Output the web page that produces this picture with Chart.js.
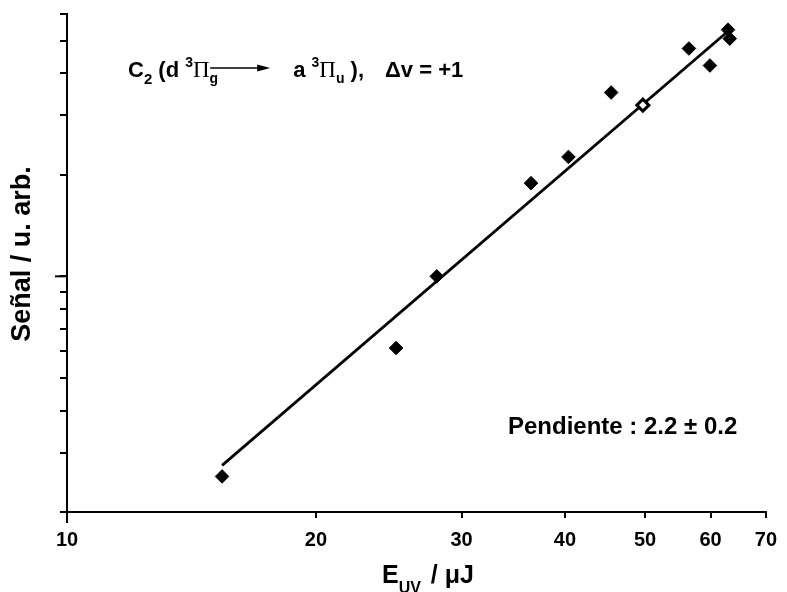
<!DOCTYPE html>
<html>
<head>
<meta charset="utf-8">
<script src="https://cdn.jsdelivr.net/npm/chart.js@4/dist/chart.umd.min.js"></script>
<style>
  html, body { margin: 0; padding: 0; background: #fff; }
  #wrap { position: relative; width: 787px; height: 592px; }
</style>
</head>
<body>
<div id="wrap"><canvas id="chart"></canvas></div>
<script>
// UV pulse energy (µJ) and C2 emission signal (arb. units)
const energyFilled = [15.4, 25.0, 28.0, 36.4, 40.4, 45.5, 56.5, 59.9, 63.0, 63.3];
const signalFilled = [0.255, 0.613, 1.0, 1.89, 2.26, 3.51, 4.74, 4.22, 5.39, 5.07];
const energyOpen = [49.7];
const signalOpen = [3.22];

// least-squares line in log-log space (end points)
const fitEnergy = [15.4, 63.1];
const fitSignal = [0.275, 5.35];

// axis ticks
const xTicks = [10, 20, 30, 40, 50, 60, 70];
const yTicks = [0.2, 0.3, 0.4, 0.5, 0.6, 0.7, 0.8, 0.9, 1, 2, 3, 4, 5, 6];
const xMajor = [10];
const yMajor = [1];

const SANS = '"Liberation Sans", Arial, sans-serif';
const SERIF = '"Liberation Serif", "Times New Roman", serif';

function drawRuns(ctx, x, baseline, runs) {
  let cx = x;
  for (const r of runs) {
    if (r.gap !== undefined) { cx += r.gap; continue; }
    if (r.arrow !== undefined) {
      const y = baseline - r.lift;
      ctx.beginPath();
      ctx.lineWidth = 1.6;
      ctx.moveTo(cx, y);
      ctx.lineTo(cx + r.arrow - 10, y);
      ctx.stroke();
      ctx.beginPath();
      ctx.moveTo(cx + r.arrow, y);
      ctx.lineTo(cx + r.arrow - 13, y - 3.5);
      ctx.lineTo(cx + r.arrow - 13, y + 3.5);
      ctx.closePath();
      ctx.fill();
      cx += r.arrow;
      continue;
    }
    ctx.font = `${r.weight || 'bold'} ${r.size}px ${r.family || SANS}`;
    ctx.fillText(r.t, cx, baseline + (r.dy || 0));
    cx += ctx.measureText(r.t).width;
  }
}

const textLayer = {
  id: 'textLayer',
  afterDraw(chart) {
    const { ctx, scales: { x, y }, chartArea } = chart;
    ctx.save();
    ctx.fillStyle = '#000';
    ctx.strokeStyle = '#000';

    // longer ticks at the decades
    ctx.lineWidth = 2;
    for (const v of xMajor) {
      const px = x.getPixelForValue(v);
      ctx.beginPath(); ctx.moveTo(px, chartArea.bottom); ctx.lineTo(px, chartArea.bottom + 11); ctx.stroke();
    }
    for (const v of yMajor) {
      const py = y.getPixelForValue(v);
      ctx.beginPath(); ctx.moveTo(chartArea.left - 12, py); ctx.lineTo(chartArea.left, py); ctx.stroke();
    }

    ctx.textAlign = 'left';
    ctx.textBaseline = 'alphabetic';

    // transition label
    drawRuns(ctx, 128, 77, [
      { t: 'C', size: 22 },
      { t: '2', size: 15, dy: 7 },
      { t: ' (d ', size: 22 },
      { t: '3', size: 14, dy: -10 },
      { t: 'Π', size: 23, weight: 'normal', family: SERIF },
      { t: 'g', size: 14, dy: 6 },
      { gap: -8 },
      { arrow: 60, lift: 9 },
      { gap: 23 },
      { t: 'a ', size: 22 },
      { t: '3', size: 14, dy: -10 },
      { t: 'Π', size: 23, weight: 'normal', family: SERIF },
      { t: 'u', size: 14, dy: 6 },
      { t: ' ),', size: 22 },
      { gap: 21 },
      { t: 'Δv = +1', size: 22 }
    ]);

    // slope of the fit
    ctx.font = `bold 24px ${SANS}`;
    ctx.textBaseline = 'middle';
    ctx.fillText('Pendiente : 2.2 ± 0.2', 508, 427);

    // x axis title with subscript
    ctx.textBaseline = 'alphabetic';
    drawRuns(ctx, 382, 583, [
      { t: 'E', size: 25 },
      { t: 'UV', size: 16, dy: 10 },
      { gap: 3 },
      { t: ' / μJ', size: 25 }
    ]);

    // y axis title
    ctx.translate(23, 254);
    ctx.rotate(-Math.PI / 2);
    ctx.textAlign = 'center';
    ctx.textBaseline = 'middle';
    ctx.font = `bold 27px ${SANS}`;
    ctx.fillText('Señal / u. arb.', 0, 0);
    ctx.restore();
  }
};

const toXY = (xs, ys) => xs.map((v, i) => ({ x: v, y: ys[i] }));

new Chart(document.getElementById('chart'), {
  type: 'scatter',
  data: {
    datasets: [
      {
        type: 'line',
        data: toXY(fitEnergy, fitSignal),
        borderColor: '#000',
        borderWidth: 2.8,
        pointRadius: 0,
        fill: false,
        order: 3
      },
      {
        data: toXY(energyFilled, signalFilled),
        pointStyle: 'rectRot',
        pointRadius: 6.8,
        backgroundColor: '#000',
        borderColor: '#000',
        borderWidth: 1,
        order: 1
      },
      {
        data: toXY(energyOpen, signalOpen),
        pointStyle: 'rectRot',
        pointRadius: 6,
        backgroundColor: '#fff',
        borderColor: '#000',
        borderWidth: 3,
        order: 0
      }
    ]
  },
  options: {
    responsive: true,
    maintainAspectRatio: false,
    animation: false,
    events: [],
    layout: { padding: { top: 14, right: 17, left: 0, bottom: 0 } },
    plugins: { legend: { display: false }, tooltip: { enabled: false } },
    scales: {
      x: {
        type: 'logarithmic',
        position: 'bottom',
        min: 10,
        max: 70,
        afterBuildTicks: s => { s.ticks = xTicks.map(v => ({ value: v })); },
        afterFit: s => { s.height = 80; },
        ticks: {
          autoSkip: false,
          maxRotation: 0,
          padding: 10,
          color: '#000',
          font: { family: SANS, size: 20, weight: 'bold' },
          callback: v => String(v)
        },
        grid: { drawOnChartArea: false, drawTicks: true, tickLength: 6, color: '#000', lineWidth: 2 },
        border: { display: true, color: '#000', width: 2 }
      },
      y: {
        type: 'logarithmic',
        position: 'left',
        min: 0.2,
        max: 6,
        afterBuildTicks: s => { s.ticks = yTicks.map(v => ({ value: v })); },
        afterFit: s => { s.width = 67; },
        ticks: { display: false },
        grid: { drawOnChartArea: false, drawTicks: true, tickLength: 7, color: '#000', lineWidth: 2 },
        border: { display: true, color: '#000', width: 2 }
      }
    }
  },
  plugins: [textLayer]
});
</script>
</body>
</html>
